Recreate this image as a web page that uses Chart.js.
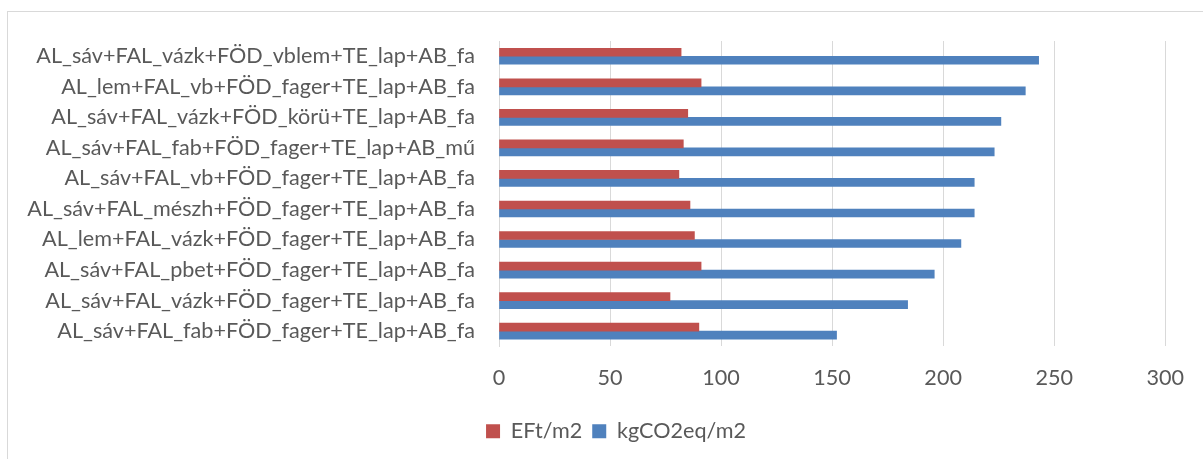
<!DOCTYPE html>
<html>
<head>
<meta charset="utf-8">
<script src="https://cdn.jsdelivr.net/npm/chart.js@4/dist/chart.umd.min.js"></script>
<style>
  html, body { margin: 0; padding: 0; background: #fff; }
  #wrap { position: relative; width: 1203px; height: 459px; overflow: hidden; }
  #frame { position: absolute; left: 7px; top: 11px; width: 1300px; height: 500px;
           border-top: 1px solid #d9d9d9; border-left: 1px solid #d9d9d9; }
  #chart { position: absolute; left: 0; top: 0; }
</style>
</head>
<body>
<div id="wrap">
  <div id="frame"></div>
  <canvas id="chart" width="1203" height="459"></canvas>
</div>
<script>
// categories, top to bottom as in the picture
const categories = [
    'AL_sáv+FAL_vázk+FÖD_vblem+TE_lap+AB_fa',
    'AL_lem+FAL_vb+FÖD_fager+TE_lap+AB_fa',
    'AL_sáv+FAL_vázk+FÖD_körü+TE_lap+AB_fa',
    'AL_sáv+FAL_fab+FÖD_fager+TE_lap+AB_mű',
    'AL_sáv+FAL_vb+FÖD_fager+TE_lap+AB_fa',
    'AL_sáv+FAL_mészh+FÖD_fager+TE_lap+AB_fa',
    'AL_lem+FAL_vázk+FÖD_fager+TE_lap+AB_fa',
    'AL_sáv+FAL_pbet+FÖD_fager+TE_lap+AB_fa',
    'AL_sáv+FAL_vázk+FÖD_fager+TE_lap+AB_fa',
    'AL_sáv+FAL_fab+FÖD_fager+TE_lap+AB_fa'
];
const eftValues = [82, 91, 85, 83, 81, 86, 88, 91, 77, 90];
const co2Values = [243, 237, 226, 223, 214, 214, 208, 196, 184, 152];
const xTicks = [0, 50, 100, 150, 200, 250, 300];

const textColor = '#595959';
const gridColor = '#d9d9d9';
const font = { family: 'Lato', size: 21.6 };

// nudge the legend right so it sits where the original one does
const legendShift = {
    id: 'legendShift',
    afterLayout(chart) {
        if (chart.legend) {
            chart.legend.left += 32;
            chart.legend.right += 32;
        }
    }
};

new Chart(document.getElementById('chart').getContext('2d'), {
    type: 'bar',
    data: {
        labels: categories,
        datasets: [
            { label: 'EFt/m2', data: eftValues, backgroundColor: '#c0504d', barThickness: 8 },
            { label: 'kgCO2eq/m2', data: co2Values, backgroundColor: '#4f81bd', barThickness: 8 }
        ]
    },
    plugins: [legendShift],
    options: {
        indexAxis: 'y',
        responsive: false,
        animation: false,
        layout: { padding: { top: 41, left: 0, right: 35, bottom: 7 } },
        plugins: {
            tooltip: { enabled: false },
            legend: {
                position: 'bottom',
                labels: { color: textColor, font: font, boxWidth: 14, boxHeight: 14, padding: 10 }
            }
        },
        scales: {
            x: {
                min: xTicks[0],
                max: xTicks[xTicks.length - 1],
                afterBuildTicks: function(axis) { axis.ticks = xTicks.map(v => ({ value: v })); },
                grid: { color: gridColor, lineWidth: 1, drawTicks: false },
                border: { display: false },
                ticks: { color: textColor, font: font, padding: 19 },
                afterFit: function(axis) { axis.height = 64; }
            },
            y: {
                grid: { display: false, drawTicks: false },
                border: { display: true, color: gridColor, width: 1 },
                ticks: { color: textColor, font: font, padding: 24, autoSkip: false },
                afterFit: function(axis) { axis.width = 499; }
            }
        }
    }
});
</script>
</body>
</html>
